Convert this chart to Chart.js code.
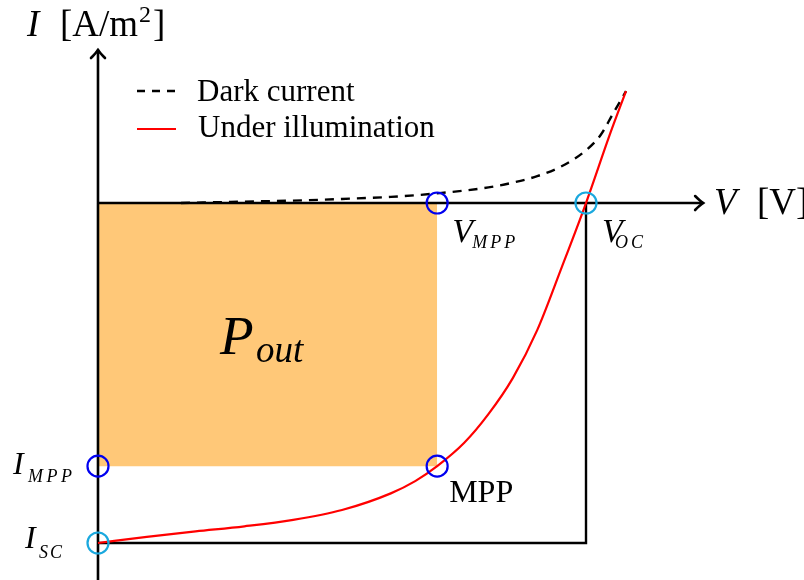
<!DOCTYPE html>
<html lang="en">
<head>
<meta charset="UTF-8">
<title>Solar cell I-V characteristic</title>
<script src="https://cdn.jsdelivr.net/npm/chart.js"></script>
<style>
  html, body { margin: 0; padding: 0; background: #fff; }
  #wrap { width: 804px; height: 580px; }
</style>
</head>
<body>
<div id="wrap"><canvas id="ivChart" width="804" height="580"></canvas></div>
<script>
  // normalised units: V / V_oc and I / |I_sc|
  const darkV = [0.17, 0.3, 0.4, 0.5, 0.6, 0.7, 0.8, 0.85, 0.9, 0.95, 1.0, 1.03, 1.055, 1.082];
  const darkI = [0.0, 0.004, 0.007, 0.012, 0.018, 0.029, 0.046, 0.06, 0.079, 0.108, 0.155, 0.2, 0.262, 0.329];
  const lightV = [0, 0.1, 0.2, 0.3, 0.4, 0.5, 0.6, 0.65, 0.695, 0.75, 0.8, 0.85, 0.9, 0.95, 1.0, 1.05, 1.082];
  const lightI = [-1, -0.982, -0.966, -0.951, -0.932, -0.903, -0.854, -0.818, -0.774, -0.706, -0.621, -0.515, -0.374, -0.19, 0, 0.206, 0.329];
  const vMpp = 0.695, iMpp = -0.774;
  const vOc = 1.0, iSc = -1.0;
  const legendLabels = ["Dark current", "Under illumination"];

  const xy = (xs, ys) => xs.map((x, i) => ({ x: x, y: ys[i] }));

  const SERIF = "'Liberation Serif', 'DejaVu Serif', serif";
  const ORANGE = "#ffc878";
  const BLUE = "#0000f0";
  const CYAN = "#1aa8de";

  // draws a string letter by letter with extra tracking
  function spaced(ctx, text, x, y, gap) {
    for (const ch of text) {
      ctx.fillText(ch, x, y);
      x += ctx.measureText(ch).width + gap;
    }
  }

  function arrowHead(ctx, tx, ty, dir) {
    ctx.beginPath();
    if (dir === "right") {
      ctx.moveTo(tx - 8, ty - 7);
      ctx.quadraticCurveTo(tx - 3, ty - 2, tx, ty);
      ctx.quadraticCurveTo(tx - 3, ty + 2, tx - 8, ty + 7);
    } else {
      ctx.moveTo(tx - 7, ty + 8);
      ctx.quadraticCurveTo(tx - 2, ty + 3, tx, ty);
      ctx.quadraticCurveTo(tx + 2, ty + 3, tx + 7, ty + 8);
    }
    ctx.stroke();
  }

  // axes go in right after the shaded power rectangle so the curves sit on top
  const axesPlugin = {
    id: "axesPlugin",
    afterDatasetDraw(chart, args) {
      if (args.index !== 0) return;
      const ctx = chart.ctx;
      const sx = v => chart.scales.x.getPixelForValue(v);
      const sy = v => chart.scales.y.getPixelForValue(v);
      ctx.save();
      ctx.strokeStyle = "#000";
      ctx.lineWidth = 2.6;
      ctx.lineCap = "round";
      ctx.beginPath();
      ctx.moveTo(sx(0), sy(0));
      ctx.lineTo(sx(1.24), sy(0));
      ctx.moveTo(sx(0), sy(-1.12));
      ctx.lineTo(sx(0), sy(0.45));
      ctx.stroke();
      arrowHead(ctx, sx(1.24), sy(0), "right");
      arrowHead(ctx, sx(0), sy(0.45), "up");
      ctx.restore();
    }
  };

  const labelPlugin = {
    id: "labelPlugin",
    afterDraw(chart) {
      const ctx = chart.ctx;
      const sx = v => chart.scales.x.getPixelForValue(v);
      const sy = v => chart.scales.y.getPixelForValue(v);
      const y0 = sy(0);
      ctx.save();
      ctx.fillStyle = "#000";
      ctx.textBaseline = "alphabetic";

      // axis titles
      ctx.font = "italic 37px " + SERIF;
      ctx.fillText("I", 27, 36);
      ctx.font = "37px " + SERIF;
      let x = 60;
      ctx.fillText("[A/m", x, 36);
      x += ctx.measureText("[A/m").width;
      ctx.font = "24px " + SERIF;
      ctx.fillText("2", x + 1, 22);
      x += ctx.measureText("2").width + 3;
      ctx.font = "37px " + SERIF;
      ctx.fillText("]", x, 36);

      ctx.font = "italic 37px " + SERIF;
      ctx.fillText("V", 714, 214);
      ctx.font = "37px " + SERIF;
      ctx.fillText("[V]", 757, 214);

      // legend
      ctx.lineWidth = 2.4;
      ctx.strokeStyle = "#000";
      ctx.setLineDash([8, 7]);
      ctx.beginPath();
      ctx.moveTo(137, 91);
      ctx.lineTo(176, 91);
      ctx.stroke();
      ctx.setLineDash([]);
      ctx.strokeStyle = "#ff0000";
      ctx.lineWidth = 2.2;
      ctx.beginPath();
      ctx.moveTo(137, 129);
      ctx.lineTo(176, 129);
      ctx.stroke();
      ctx.font = "31px " + SERIF;
      ctx.fillText(legendLabels[0], 197, 101);
      ctx.fillText(legendLabels[1], 198, 137);

      // P_out inside the rectangle
      ctx.font = "italic 55px " + SERIF;
      ctx.fillText("P", 220, 354);
      ctx.font = "italic 37px " + SERIF;
      ctx.fillText("out", 256, 362);

      // V_MPP and V_OC under the voltage axis
      const xm = sx(vMpp), xo = sx(vOc);
      ctx.font = "italic 34px " + SERIF;
      ctx.fillText("V", xm + 15, y0 + 39);
      ctx.fillText("V", xo + 16, y0 + 39);
      ctx.font = "italic 18px " + SERIF;
      spaced(ctx, "MPP", xm + 35, y0 + 45, 3);
      spaced(ctx, "OC", xo + 29, y0 + 45, 3);

      // I_MPP and I_SC left of the current axis
      const ym = sy(iMpp), ys = sy(iSc);
      ctx.font = "italic 32px " + SERIF;
      ctx.fillText("I", 13, ym + 8);
      ctx.fillText("I", 25, ys + 5);
      ctx.font = "italic 18px " + SERIF;
      spaced(ctx, "MPP", 28, ym + 16, 3.5);
      spaced(ctx, "SC", 39, ys + 15, 2);

      // maximum power point
      ctx.font = "32px " + SERIF;
      ctx.fillText("MPP", xm + 12, ym + 36);
      ctx.restore();
    }
  };

  new Chart(document.getElementById("ivChart"), {
    type: "line",
    data: {
      datasets: [
        {
          // output power rectangle, filled up to I = 0
          data: [{ x: 0, y: iMpp }, { x: vMpp, y: iMpp }],
          borderWidth: 0,
          pointRadius: 0,
          backgroundColor: ORANGE,
          fill: { value: 0 },
          order: 10
        },
        {
          // I_sc to V_oc guide lines
          data: [{ x: 0, y: iSc }, { x: vOc, y: iSc }, { x: vOc, y: 0 }],
          borderColor: "#000",
          borderWidth: 2.4,
          tension: 0,
          pointRadius: 0,
          fill: false,
          order: 8
        },
        {
          label: legendLabels[0],
          data: xy(darkV, darkI),
          borderColor: "#000",
          borderWidth: 2.4,
          borderDash: [9, 7],
          pointRadius: 0,
          cubicInterpolationMode: "monotone",
          fill: false,
          order: 5
        },
        {
          label: legendLabels[1],
          data: xy(lightV, lightI),
          borderColor: "#ff0000",
          borderWidth: 2.2,
          pointRadius: 0,
          cubicInterpolationMode: "monotone",
          fill: false,
          order: 4
        },
        {
          data: [{ x: 0, y: iMpp }, { x: vMpp, y: iMpp }, { x: vMpp, y: 0 }],
          showLine: false,
          pointRadius: 10.5,
          pointBorderWidth: 2.2,
          pointBorderColor: BLUE,
          pointBackgroundColor: "rgba(0,0,0,0)",
          order: 1
        },
        {
          data: [{ x: 0, y: iSc }, { x: vOc, y: 0 }],
          showLine: false,
          pointRadius: 10.5,
          pointBorderWidth: 2.2,
          pointBorderColor: CYAN,
          pointBackgroundColor: "rgba(0,0,0,0)",
          order: 1
        }
      ]
    },
    options: {
      responsive: false,
      animation: false,
      layout: { padding: 0, autoPadding: false },
      clip: false,
      scales: {
        x: { type: "linear", display: false, min: -0.2008, max: 1.4467 },
        y: { type: "linear", display: false, min: -1.1088, max: 0.5971 }
      },
      plugins: {
        legend: { display: false },
        tooltip: { enabled: false }
      }
    },
    plugins: [axesPlugin, labelPlugin]
  });
</script>
</body>
</html>
